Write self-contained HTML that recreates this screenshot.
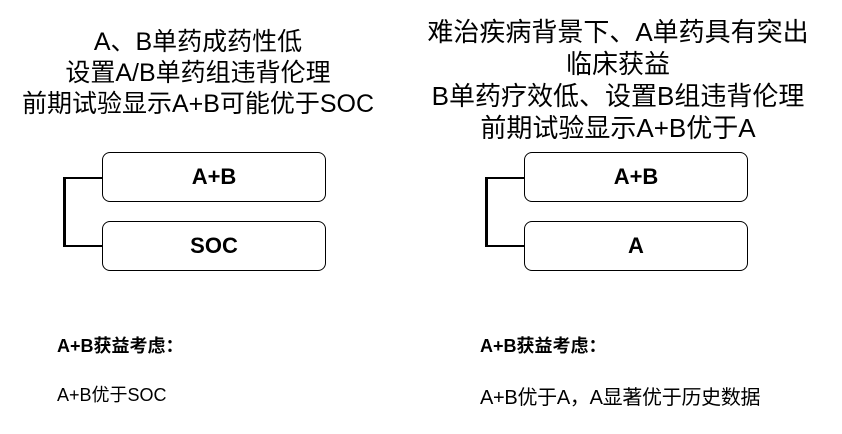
<!DOCTYPE html>
<html><head><meta charset="utf-8"><style>
body{margin:0;width:842px;height:434px;background:#fff;position:relative;overflow:hidden;font-family:"Liberation Sans","Noto Sans CJK SC",sans-serif;color:#000}
.t{position:absolute;text-align:center;font-size:25px;line-height:31px;white-space:nowrap}
.box{position:absolute;width:224px;height:50px;border:1.5px solid #000;border-radius:8px;box-sizing:border-box;display:flex;align-items:center;justify-content:center;font-weight:bold;font-size:22px}
.l{position:absolute;background:#000}
.s{position:absolute;font-size:18px;white-space:nowrap}
</style></head><body>
<div class="t" style="left:0;width:396px;top:27px">A、B单药成药性低<br>设置A/B单药组违背伦理<br>前期试验显示A+B可能优于SOC</div>
<div class="t" style="left:410px;width:416px;top:16px;line-height:32px;font-size:26px">难治疾病背景下、A单药具有突出<br>临床获益<br>B单药疗效低、设置B组违背伦理<br>前期试验显示A+B优于A</div>

<div class="box" style="left:102px;top:152px">A+B</div>
<div class="box" style="left:102px;top:221px">SOC</div>
<div class="l" style="left:63px;top:177px;width:3px;height:70px"></div>
<div class="l" style="left:63px;top:177px;width:39px;height:2px"></div>
<div class="l" style="left:63px;top:245px;width:39px;height:2px"></div>

<div class="box" style="left:524px;top:152px">A+B</div>
<div class="box" style="left:524px;top:221px">A</div>
<div class="l" style="left:485px;top:177px;width:3px;height:70px"></div>
<div class="l" style="left:485px;top:177px;width:39px;height:2px"></div>
<div class="l" style="left:485px;top:245px;width:39px;height:2px"></div>

<div class="s" style="left:57px;top:332px;font-weight:bold">A+B获益考虑：</div>
<div class="s" style="left:57px;top:381px">A+B优于SOC</div>
<div class="s" style="left:480px;top:332px;font-weight:bold">A+B获益考虑：</div>
<div class="s" style="left:480px;top:381px;font-size:20px;letter-spacing:-0.3px">A+B优于A，A显著优于历史数据</div>
</body></html>
